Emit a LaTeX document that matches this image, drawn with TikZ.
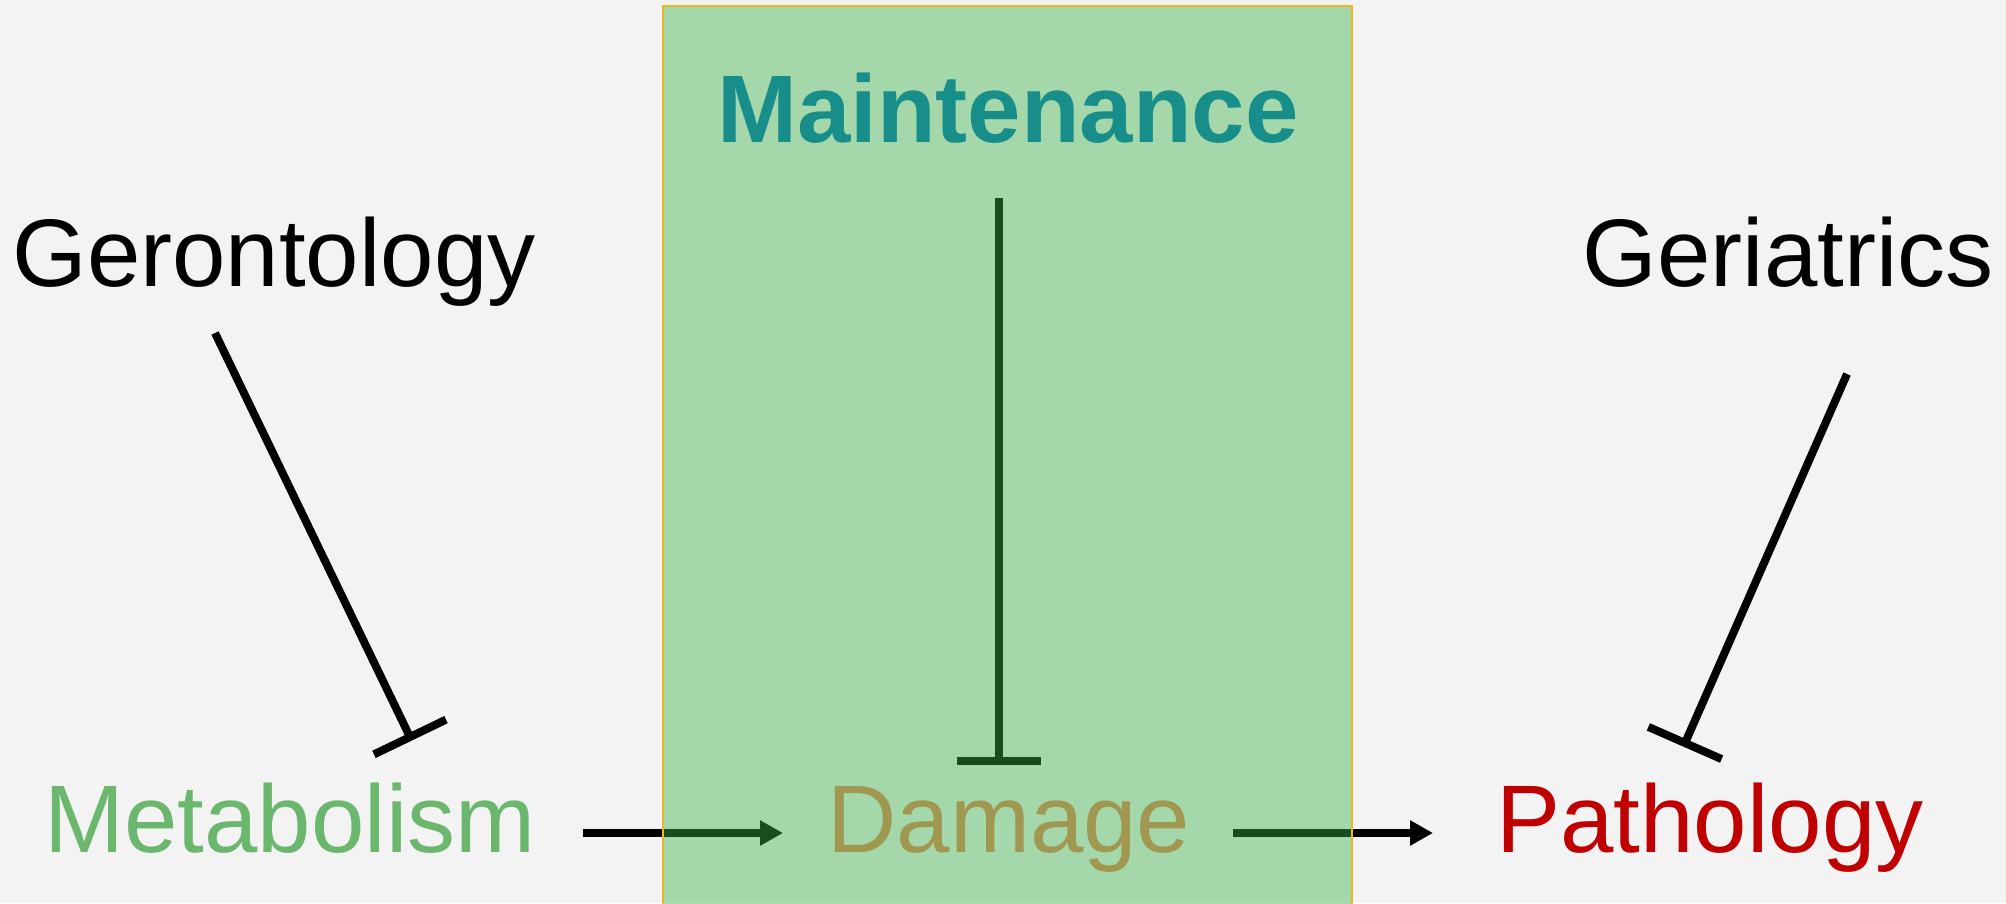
\documentclass[tikz,border=0pt]{standalone}
\usepackage{fontspec}
\setmainfont{Liberation Sans}
\usetikzlibrary{arrows.meta,calc}
\definecolor{bg}{RGB}{243,243,243}
\definecolor{boxgreen}{RGB}{60,179,72}
\definecolor{boxedge}{RGB}{240,180,40}
\definecolor{metcol}{RGB}{107,183,110}
\definecolor{damcol}{RGB}{160,152,80}
\definecolor{maincol}{RGB}{24,142,138}
\definecolor{patcol}{RGB}{192,0,0}
\tikzset{
  lbl/.style={inner sep=0pt, anchor=base, font=\fontsize{96}{100}\selectfont},
  conn/.style={line width=8pt, black},
  arr/.style={conn, -{Triangle[length=23pt,width=24pt]}},
}
\begin{document}
\begin{tikzpicture}[x=1pt,y=-1pt]
\clip (0,0) rectangle (2006,903);
\fill[bg] (0,0) rectangle (2006,903);
% text nodes
\node[lbl] (ger) at (274,286) {Gerontology};
\node[lbl] (gert) at (1788,286) {Geriatrics};
\node[lbl, text=metcol] (met) at (290,852) {Metabolism};
\node[lbl, text=patcol] (pat) at (1710,852) {Pathology};
% connector end points
\coordinate (g1) at (215,333);
\coordinate (g2) at (410,737);
\coordinate (m1) at (999,198);
\coordinate (m2) at (999,761);
\coordinate (r1) at (1847,374);
\coordinate (r2) at (1685,743);
\coordinate (a1s) at (583,833);
\coordinate (a1e) at (783,833);
\coordinate (a2s) at (1233,833);
\coordinate (a2e) at (1433,833);
% inhibitors
\draw[conn] (g1) -- (g2);
\draw[conn] ($(g2)!40pt!90:(g1)$) -- ($(g2)!40pt!-90:(g1)$);
\draw[conn] (m1) -- (m2);
\draw[conn] ($(m2)!42pt!90:(m1)$) -- ($(m2)!42pt!-90:(m1)$);
\draw[conn] (r1) -- (r2);
\draw[conn] ($(r2)!40pt!90:(r1)$) -- ($(r2)!40pt!-90:(r1)$);
% arrows
\draw[arr] (a1s) -- (a1e);
\draw[arr] (a2s) -- (a2e);
% translucent box
\fill[boxgreen, fill opacity=0.43] (663,6) rectangle (1352,920);
\draw[boxedge, line width=2pt] (663,6) rectangle (1352,920);
% texts on the box
\node[lbl, text=maincol, font=\fontsize{96}{100}\selectfont\bfseries] (main) at (1008,142) {Maintenance};
\node[lbl, text=damcol] (dam) at (1009,852) {Damage};
\end{tikzpicture}
\end{document}
